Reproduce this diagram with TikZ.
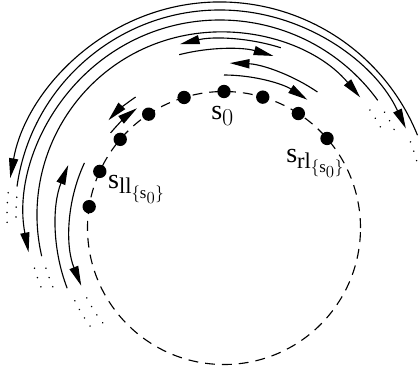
\documentclass[tikz,border=0pt]{standalone}
\usepackage{fontspec}
\setmainfont{Liberation Serif}
\usetikzlibrary{arrows.meta}
\DeclareMathSizes{20}{20}{16}{12}
\tikzset{>={Triangle[length=14pt,width=6.5pt]},
  trk/.style={line width=0.8pt},
  dots/.style={line width=1.2pt,dash pattern=on 0.01pt off 7pt,line cap=round},
  spot/.style={circle,fill,inner sep=0pt,minimum size=9.5pt},
  lbl/.style={inner sep=0pt,font=\fontsize{20}{24}\selectfont}}
\newcommand{\orb}[4][]{\draw[trk,#1] (#2:#4) arc[start angle=#2,end angle=#3,radius=#4];}
\newcommand{\dotarc}[3]{\draw[dots] (#1:#3) arc[start angle=#1,end angle=#2,radius=#3];}

\begin{document}
\begin{tikzpicture}[x=0.025cm,y=0.025cm]
\useasboundingbox (0,0) rectangle (420,378);
\coordinate (C) at (224,150);\coordinate (B) at (220,163);
% ring and sites
\begin{scope}[shift={(C)}]
\draw[trk,dash pattern=on 7pt off 5pt] (0,0) circle[radius=136.5];
\foreach \a/\n in {41/rl,57/r2,73.5/r1,90/s0,107/l1,123.5/l2,139.5/l3,155.5/ll,171/l5}
  \node[spot] (\n) at (\a:136.5) {};
% short trips
\orb[->]{90}{57}{153}\orb[->]{55.5}{88}{165}
\orb[->]{104.5}{74}{179}\orb[->]{72.5}{103.5}{189}
\orb[->]{124}{137}{158}\orb[->]{140}{126}{148}
\orb[->]{155}{202}{154}\orb[->]{201}{158}{168}
\dotarc{207}{219}{154}\dotarc{206}{218}{166}
\end{scope}
% long trips
\begin{scope}[shift={(B)}]
\orb[->]{193}{40}{183}\orb[->]{36}{191}{195}
\orb[->]{172}{25}{205}\orb[->]{22}{170}{213}
\dotarc{35}{27}{183}\dotarc{32}{25}{194}
\dotarc{21}{14}{204}\dotarc{19}{12}{213}
\dotarc{175}{183}{204}\dotarc{174}{182}{213}
\dotarc{197}{205}{182}\dotarc{196}{204}{193}
\end{scope}
\node[lbl,anchor=base west] (s0lab) at ([shift={(-13,-28)}]s0.center) {$\mathrm{s}_0$};
\node[lbl,anchor=base west] (lllab) at ([shift={(8,-17)}]ll.center) {$\mathrm{s}_{\mathrm{ll}_{\{\mathrm{s}_0\}}}$};
\node[lbl,anchor=base west] (rllab) at ([shift={(-41,-24)}]rl.center) {$\mathrm{s}_{\mathrm{rl}_{\{\mathrm{s}_0\}}}$};
\end{tikzpicture}
\end{document}
